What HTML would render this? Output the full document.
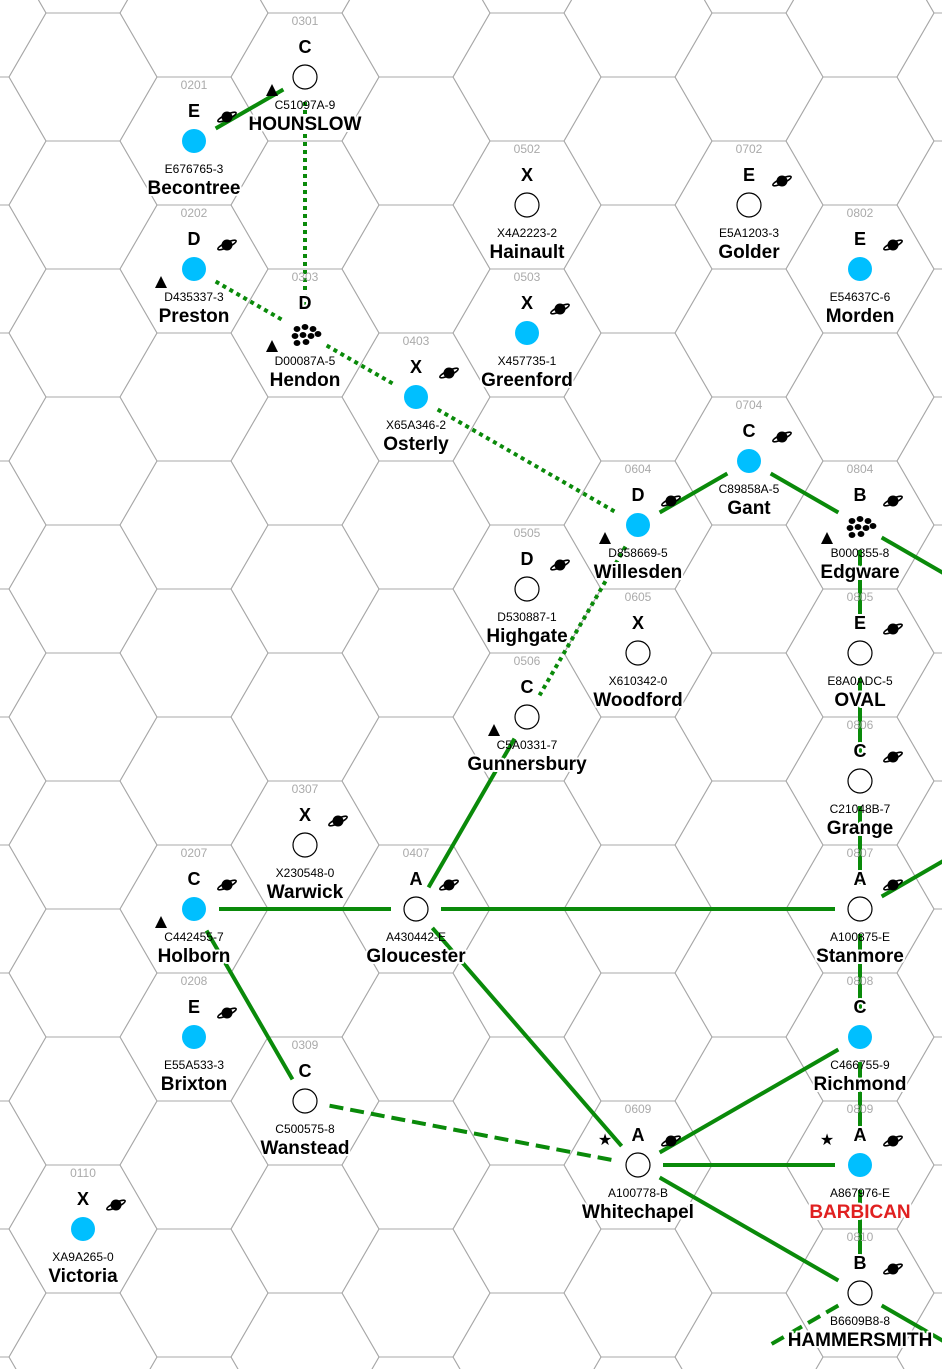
<!DOCTYPE html>
<html><head><meta charset="utf-8"><style>
html,body{margin:0;padding:0;background:#fff;width:942px;height:1369px;overflow:hidden;}
svg{display:block;}
text{font-family:"Liberation Sans",Arial,sans-serif;}
.halo{paint-order:stroke;stroke:#fff;stroke-width:4px;stroke-linejoin:round;}
</style></head><body>
<svg id="map" width="942" height="1369" viewBox="0 0 942 1369" xmlns="http://www.w3.org/2000/svg">
<g id="grid"></g>
<g id="routes"></g>
<g id="worlds"></g>
</svg>
<script>
const hexes = ["0201","0202","0301","0303","0403","0502","0503","0505","0506","0307","0207","0208","0309","0407","0110","0604","0605","0609","0702","0704","0802","0804","0805","0806","0807","0808","0809","0810"];
const ports = ["E","D","C","D","X","X","X","D","C","X","C","E","C","A","X","D","X","A","E","C","E","B","E","C","A","C","A","B"];
const uwps = ["E676765-3","D435337-3","C51097A-9","D00087A-5","X65A346-2","X4A2223-2","X457735-1","D530887-1","C5A0331-7","X230548-0","C442455-7","E55A533-3","C500575-8","A430442-E","XA9A265-0","D858669-5","X610342-0","A100778-B","E5A1203-3","C89858A-5","E54637C-6","B000355-8","E8A0ADC-5","C21048B-7","A100875-E","C466755-9","A867976-E","B6609B8-8"];
const names = ["Becontree","Preston","HOUNSLOW","Hendon","Osterly","Hainault","Greenford","Highgate","Gunnersbury","Warwick","Holborn","Brixton","Wanstead","Gloucester","Victoria","Willesden","Woodford","Whitechapel","Golder","Gant","Morden","Edgware","OVAL","Grange","Stanmore","Richmond","BARBICAN","HAMMERSMITH"];
const types = ["blue","blue","white","belt","blue","white","blue","white","white","white","blue","blue","white","white","blue","blue","white","white","white","blue","blue","belt","white","white","white","blue","blue","white"];
const gasGiant = [1,1,0,0,1,0,1,1,0,1,1,1,0,1,1,1,0,1,1,1,1,1,1,1,1,0,1,1];
const bases = ["","tri","tri","tri","","","","","tri","","tri","","","","","tri","","star","","","","tri","","","","","star",""];
const routeFrom = ["0201","0301","0202","0303","0403","0604","0604","0704","0804","0804","0805","0806","0807","0808","0809","0807","0506","0207","0407","0207","0407","0309","0609","0609","0609","0810","0810"];
const routeTo   = ["0301","0303","0303","0403","0604","0506","0704","0804","0905","0805","0806","0807","0808","0809","0810","0907","0407","0407","0807","0309","0609","0609","0808","0809","0810","0711","0911"];
const routeStyle= ["solid","dot","dot","dot","dot","dot","solid","solid","solid","solid","solid","solid","solid","solid","solid","solid","solid","solid","solid","solid","solid","dash","solid","solid","solid","dash","solid"];

const NS="http://www.w3.org/2000/svg";
const R=74,H=128,X0=83-111,Y0=77-128;
function cx(col){return X0+col*111;}
function cy(col,row){return Y0+row*H+(col%2===0?64:0);}
function hexPos(h){const c=+h.slice(0,2),r=+h.slice(2);return [cx(c),cy(c,r)];}
function mk(tag,attrs,parent){const e=document.createElementNS(NS,tag);for(const k in attrs)e.setAttribute(k,attrs[k]);parent.appendChild(e);return e;}

const grid=document.getElementById('grid');
for(let c=0;c<=9;c++){for(let r=0;r<=11;r++){
  const x=cx(c),y=cy(c,r);
  const pts=[[x-R,y],[x-R/2,y-H/2],[x+R/2,y-H/2],[x+R,y],[x+R/2,y+H/2],[x-R/2,y+H/2]].map(p=>p.join(',')).join(' ');
  const p=mk('polygon',{points:pts,fill:'none',stroke:'#a8a8a8','stroke-width':1},grid);
  
  
}}

const routes=document.getElementById('routes');
routeFrom.forEach((f,i)=>{
  const [x1,y1]=hexPos(f),[x2,y2]=hexPos(routeTo[i]);
  const dx=x2-x1,dy=y2-y1,L=Math.hypot(dx,dy),g=25;
  const a={x1:x1+dx/L*g,y1:y1+dy/L*g,x2:x2-dx/L*g,y2:y2-dy/L*g,stroke:'#0a8a0a','stroke-width':4};
  if(routeStyle[i]==='dot')a['stroke-dasharray']='4 4';
  if(routeStyle[i]==='dash')a['stroke-dasharray']='14 7';
  const l=mk('line',a,routes);
  
  
});

const wg=document.getElementById('worlds');
hexes.forEach((h,i)=>{
  const [x,y]=hexPos(h);
  const g=mk('g',{},wg);
  
  
  const n=mk('text',{x:x,y:y-52,'text-anchor':'middle','font-size':12,fill:'#aaa'},g);n.textContent=h;
  
  
  const sp=mk('text',{x:x,y:y-24,'text-anchor':'middle','font-size':18,'font-weight':'bold',fill:'#000',class:'halo'},g);sp.textContent=ports[i];
  
  
  if(types[i]==='belt'){
    [[-8,-4],[0,-6],[8,-4],[-10,3],[-2,2],[6,3],[13,1],[-8,10],[1,9]].forEach(d=>mk('ellipse',{cx:x+d[0],cy:y+d[1],rx:3.4,ry:3,fill:'#000'},g));
  } else {
    mk('circle',{cx:x,cy:y,r:12,fill:types[i]==='blue'?'#00bfff':'#fff',stroke:types[i]==='blue'?'none':'#000','stroke-width':1.2},g);
  }
  if(gasGiant[i]){
    const gx=x+33,gy=y-24;
    const gg=mk('g',{},g);
    
    
    mk('circle',{cx:gx,cy:gy,r:5.5,fill:'#000'},gg);
    mk('ellipse',{cx:gx,cy:gy,rx:10,ry:2.5,fill:'none',stroke:'#000','stroke-width':1.6,transform:`rotate(-25 ${gx} ${gy})`},gg);
  }
  if(bases[i]==='tri'){
    const bx=x-33,by=y+14;
    const t=mk('polygon',{points:`${bx-6},${by+5} ${bx+6},${by+5} ${bx},${by-7}`,fill:'#000'},g);
    
    
  } else if(bases[i]==='star'){
    const s=mk('text',{x:x-33,y:y-20,'text-anchor':'middle','font-size':16,fill:'#000'},g);s.textContent='★';
    
    
  }
  const u=mk('text',{x:x,y:y+32,'text-anchor':'middle','font-size':12,fill:'#000'},g);u.textContent=uwps[i];
  
  
  const nm=mk('text',{x:x,y:y+53,'text-anchor':'middle','font-size':19,'font-weight':'bold',fill:names[i]==='BARBICAN'?'#e02020':'#000',class:'halo'},g);nm.textContent=names[i];
  
  
});
</script>
</body></html>
